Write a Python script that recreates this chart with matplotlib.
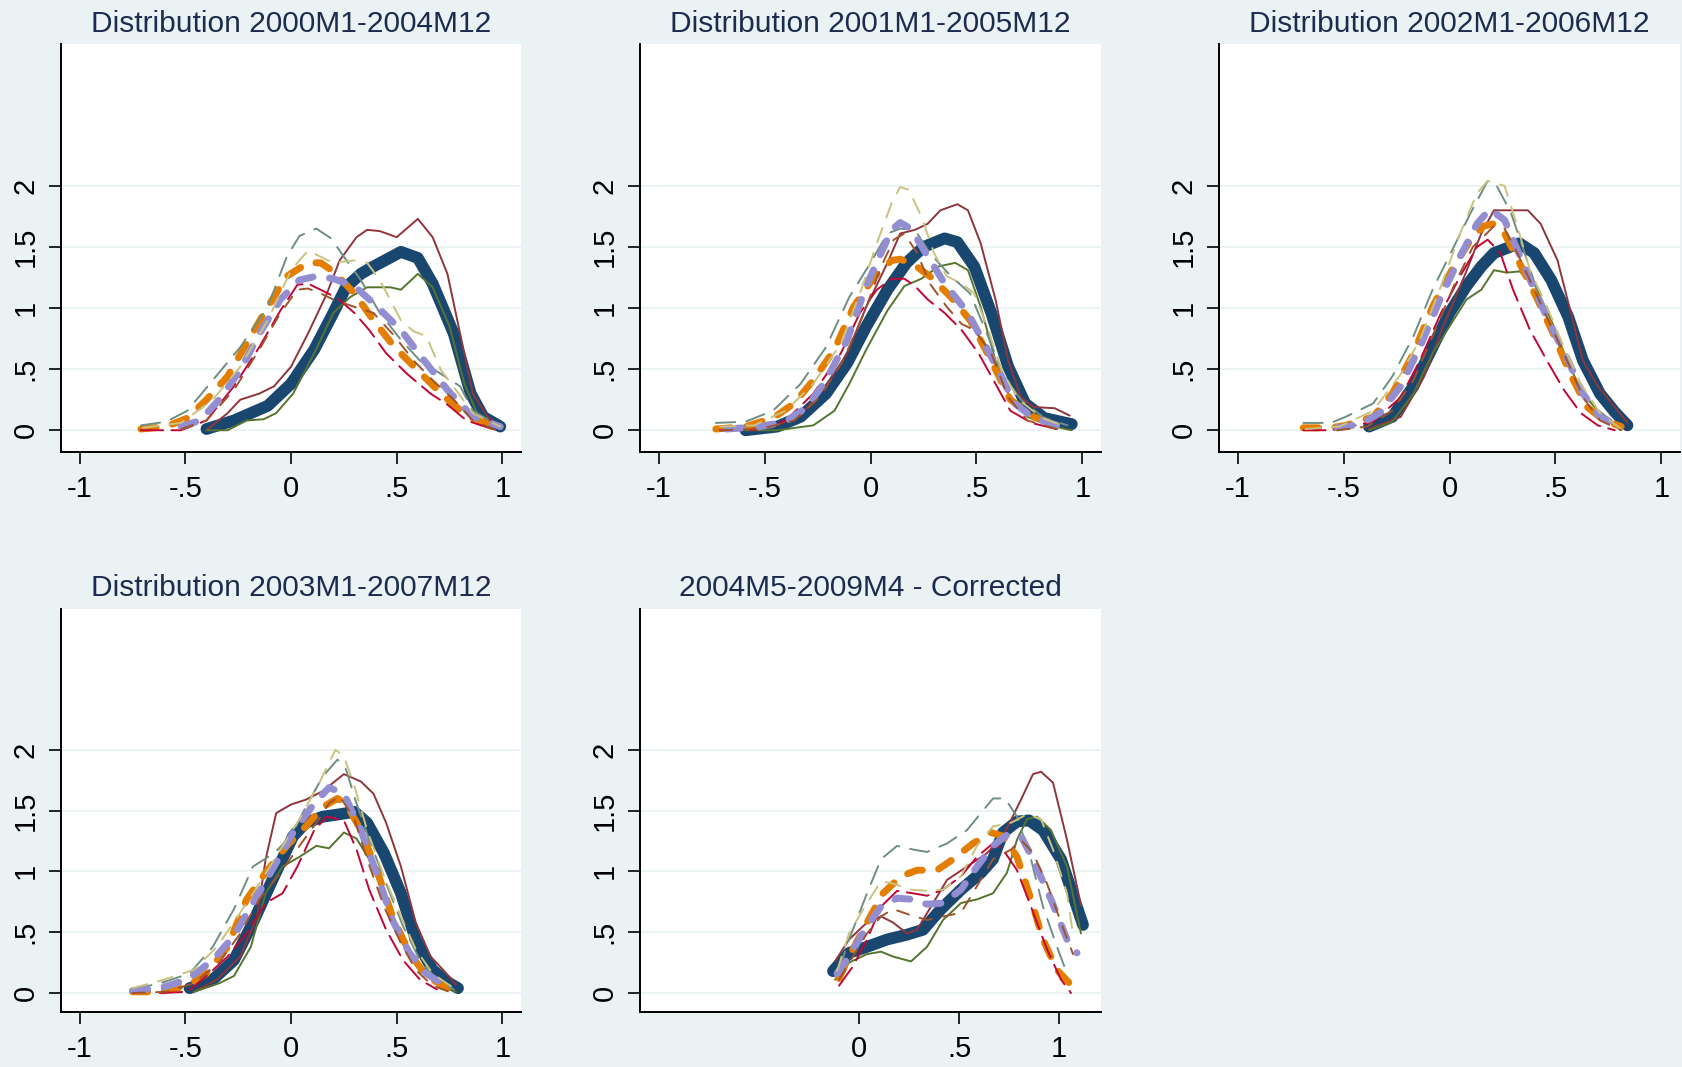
import matplotlib
matplotlib.use("Agg")
import matplotlib.pyplot as plt

plt.rcParams['font.family'] = ['Liberation Sans', 'DejaVu Sans']
plt.rcParams['lines.scale_dashes'] = False

# panel titles and x ticks
titles = ['Distribution 2000M1-2004M12', 'Distribution 2001M1-2005M12',
          'Distribution 2002M1-2006M12', 'Distribution 2003M1-2007M12',
          '2004M5-2009M4 - Corrected']
xticks_std = [-1, -0.5, 0, 0.5, 1]
xlabels_std = ['-1', '-.5', '0', '.5', '1']
xticks_p5 = [0, 0.5, 1]
xlabels_p5 = ['0', '.5', '1']
yticks = [0, 0.5, 1, 1.5, 2]
ylabels = ['0', '.5', '1', '1.5', '2']

# ---- panel 1: 2000M1-2004M12
p1_navy_x = [-0.40, -0.27, -0.11, 0.0, 0.11, 0.20, 0.26, 0.33, 0.39, 0.52, 0.60, 0.67, 0.77, 0.85, 0.91, 0.99]
p1_navy_y = [0.01, 0.08, 0.20, 0.38, 0.66, 0.96, 1.17, 1.28, 1.34, 1.46, 1.41, 1.20, 0.79, 0.30, 0.11, 0.03]
p1_maroon_x = [-0.40, -0.30, -0.24, -0.15, -0.08, 0.0, 0.08, 0.17, 0.23, 0.31, 0.36, 0.42, 0.50, 0.60, 0.67, 0.74, 0.80, 0.86, 0.93, 0.99]
p1_maroon_y = [0.0, 0.14, 0.25, 0.30, 0.36, 0.52, 0.79, 1.12, 1.39, 1.58, 1.64, 1.63, 1.58, 1.73, 1.58, 1.28, 0.79, 0.30, 0.11, 0.03]
p1_forest_x = [-0.40, -0.30, -0.21, -0.13, -0.07, 0.01, 0.11, 0.20, 0.28, 0.36, 0.47, 0.52, 0.60, 0.67, 0.75, 0.82, 0.88, 0.99]
p1_forest_y = [0.0, 0.0, 0.08, 0.09, 0.14, 0.30, 0.63, 0.96, 1.09, 1.17, 1.17, 1.15, 1.28, 1.17, 0.85, 0.38, 0.14, 0.01]
p1_orange_x = [-0.71, -0.59, -0.49, -0.40, -0.30, -0.21, -0.11, -0.02, 0.08, 0.14, 0.20, 0.30, 0.39, 0.49, 0.60, 0.71, 0.83, 0.97]
p1_orange_y = [0.01, 0.03, 0.10, 0.25, 0.44, 0.71, 1.01, 1.26, 1.37, 1.37, 1.30, 1.12, 0.90, 0.68, 0.49, 0.30, 0.12, 0.03]
p1_teal_x = [-0.71, -0.59, -0.49, -0.37, -0.24, -0.11, -0.02, 0.04, 0.12, 0.19, 0.25, 0.33, 0.42, 0.52, 0.61, 0.71, 0.80, 0.86, 0.99]
p1_teal_y = [0.04, 0.07, 0.16, 0.41, 0.68, 1.01, 1.42, 1.59, 1.65, 1.57, 1.42, 1.23, 0.96, 0.74, 0.57, 0.46, 0.36, 0.16, 0.03]
p1_cranberry_x = [-0.71, -0.52, -0.40, -0.27, -0.15, -0.05, 0.03, 0.08, 0.14, 0.22, 0.30, 0.37, 0.45, 0.55, 0.66, 0.74, 0.83, 0.97]
p1_cranberry_y = [0.0, 0.0, 0.08, 0.36, 0.68, 0.98, 1.19, 1.20, 1.15, 1.08, 0.96, 0.82, 0.63, 0.46, 0.30, 0.21, 0.08, 0.0]
p1_lavender_x = [-0.52, -0.43, -0.34, -0.24, -0.15, -0.05, 0.04, 0.12, 0.20, 0.30, 0.39, 0.52, 0.63, 0.74, 0.86, 0.99]
p1_lavender_y = [0.03, 0.08, 0.25, 0.49, 0.79, 1.07, 1.23, 1.26, 1.24, 1.18, 1.04, 0.82, 0.57, 0.33, 0.11, 0.03]
p1_khaki_x = [-0.70, -0.52, -0.37, -0.24, -0.11, 0.0, 0.08, 0.14, 0.20, 0.30, 0.36, 0.42, 0.52, 0.58, 0.64, 0.71, 0.78, 0.86, 0.99]
p1_khaki_y = [0.02, 0.06, 0.25, 0.52, 0.90, 1.31, 1.47, 1.42, 1.37, 1.39, 1.37, 1.23, 0.90, 0.81, 0.77, 0.49, 0.33, 0.14, 0.03]
p1_sienna_x = [-0.52, -0.40, -0.27, -0.15, -0.05, 0.03, 0.08, 0.14, 0.20, 0.30, 0.39, 0.49, 0.58, 0.67, 0.77, 0.86, 0.97]
p1_sienna_y = [0.01, 0.08, 0.33, 0.66, 0.96, 1.15, 1.16, 1.12, 1.07, 1.01, 0.96, 0.77, 0.57, 0.41, 0.25, 0.08, 0.0]

# ---- panel 2: 2001M1-2005M12
p2_navy_x = [-0.59, -0.44, -0.33, -0.21, -0.11, -0.02, 0.08, 0.17, 0.25, 0.35, 0.41, 0.49, 0.57, 0.65, 0.73, 0.82, 0.95]
p2_navy_y = [0.0, 0.03, 0.11, 0.30, 0.55, 0.85, 1.15, 1.37, 1.50, 1.57, 1.54, 1.34, 0.96, 0.52, 0.22, 0.10, 0.05]
p2_maroon_x = [-0.65, -0.46, -0.33, -0.21, -0.11, -0.02, 0.08, 0.14, 0.21, 0.27, 0.33, 0.41, 0.46, 0.52, 0.59, 0.65, 0.71, 0.77, 0.87, 0.94]
p2_maroon_y = [0.0, 0.03, 0.12, 0.36, 0.63, 1.01, 1.37, 1.61, 1.64, 1.69, 1.80, 1.85, 1.80, 1.53, 1.07, 0.57, 0.27, 0.19, 0.18, 0.12]
p2_forest_x = [-0.59, -0.44, -0.27, -0.17, -0.10, -0.02, 0.08, 0.16, 0.24, 0.32, 0.40, 0.46, 0.52, 0.59, 0.65, 0.74, 0.84, 0.95]
p2_forest_y = [0.0, 0.0, 0.04, 0.16, 0.38, 0.66, 0.98, 1.18, 1.24, 1.34, 1.37, 1.31, 1.01, 0.57, 0.30, 0.11, 0.04, 0.0]
p2_orange_x = [-0.73, -0.59, -0.46, -0.36, -0.27, -0.17, -0.08, 0.02, 0.10, 0.14, 0.21, 0.28, 0.38, 0.47, 0.57, 0.66, 0.77, 0.90]
p2_orange_y = [0.01, 0.03, 0.10, 0.22, 0.41, 0.66, 1.01, 1.26, 1.39, 1.40, 1.35, 1.26, 1.09, 0.90, 0.57, 0.25, 0.11, 0.03]
p2_teal_x = [-0.73, -0.59, -0.46, -0.33, -0.21, -0.10, 0.0, 0.08, 0.14, 0.21, 0.28, 0.38, 0.47, 0.55, 0.63, 0.71, 0.82, 0.93]
p2_teal_y = [0.06, 0.07, 0.16, 0.38, 0.68, 1.09, 1.37, 1.61, 1.65, 1.64, 1.45, 1.26, 1.12, 0.79, 0.44, 0.25, 0.10, 0.04]
p2_cranberry_x = [-0.71, -0.55, -0.40, -0.27, -0.14, -0.05, 0.03, 0.10, 0.16, 0.21, 0.27, 0.35, 0.43, 0.51, 0.59, 0.66, 0.76, 0.90]
p2_cranberry_y = [0.0, 0.0, 0.08, 0.30, 0.63, 0.96, 1.15, 1.24, 1.24, 1.18, 1.07, 0.96, 0.82, 0.63, 0.38, 0.16, 0.06, 0.0]
p2_lavender_x = [-0.68, -0.52, -0.40, -0.30, -0.21, -0.11, -0.02, 0.05, 0.10, 0.14, 0.19, 0.25, 0.35, 0.46, 0.57, 0.68, 0.77, 0.90]
p2_lavender_y = [0.01, 0.03, 0.07, 0.19, 0.41, 0.74, 1.18, 1.45, 1.64, 1.70, 1.65, 1.48, 1.20, 0.96, 0.60, 0.22, 0.10, 0.03]
p2_khaki_x = [-0.71, -0.55, -0.40, -0.27, -0.14, -0.05, 0.03, 0.10, 0.14, 0.18, 0.24, 0.30, 0.36, 0.43, 0.49, 0.55, 0.62, 0.70, 0.81, 0.92]
p2_khaki_y = [0.03, 0.04, 0.16, 0.38, 0.71, 1.12, 1.53, 1.86, 1.99, 1.97, 1.75, 1.45, 1.26, 1.20, 1.12, 0.85, 0.49, 0.25, 0.10, 0.03]
p2_sienna_x = [-0.71, -0.52, -0.36, -0.24, -0.13, -0.03, 0.05, 0.11, 0.16, 0.22, 0.28, 0.36, 0.43, 0.49, 0.57, 0.65, 0.74, 0.90]
p2_sienna_y = [0.0, 0.01, 0.08, 0.27, 0.57, 0.96, 1.34, 1.56, 1.61, 1.45, 1.20, 1.01, 0.87, 0.82, 0.63, 0.27, 0.08, 0.0]

# ---- panel 3: 2002M1-2006M12
p3_navy_x = [-0.38, -0.27, -0.17, -0.08, 0.0, 0.08, 0.15, 0.21, 0.27, 0.33, 0.40, 0.48, 0.56, 0.63, 0.71, 0.78, 0.84]
p3_navy_y = [0.03, 0.11, 0.36, 0.68, 0.96, 1.18, 1.34, 1.45, 1.49, 1.53, 1.45, 1.23, 0.93, 0.57, 0.30, 0.15, 0.04]
p3_maroon_x = [-0.38, -0.23, -0.12, -0.03, 0.07, 0.15, 0.21, 0.30, 0.37, 0.43, 0.51, 0.57, 0.63, 0.70, 0.78, 0.84]
p3_maroon_y = [0.01, 0.11, 0.44, 0.85, 1.26, 1.61, 1.80, 1.80, 1.80, 1.69, 1.39, 0.98, 0.57, 0.36, 0.19, 0.06]
p3_forest_x = [-0.38, -0.27, -0.17, -0.08, 0.0, 0.08, 0.15, 0.21, 0.27, 0.33, 0.40, 0.48, 0.56, 0.63, 0.71, 0.81]
p3_forest_y = [0.0, 0.07, 0.30, 0.63, 0.85, 1.07, 1.15, 1.31, 1.29, 1.30, 1.20, 0.90, 0.55, 0.30, 0.14, 0.01]
p3_orange_x = [-0.69, -0.56, -0.49, -0.36, -0.27, -0.17, -0.08, 0.02, 0.10, 0.16, 0.21, 0.26, 0.33, 0.41, 0.49, 0.57, 0.65, 0.73, 0.81]
p3_orange_y = [0.02, 0.02, 0.04, 0.11, 0.30, 0.63, 1.01, 1.34, 1.56, 1.67, 1.69, 1.61, 1.37, 1.09, 0.79, 0.46, 0.19, 0.08, 0.03]
p3_teal_x = [-0.69, -0.56, -0.49, -0.36, -0.27, -0.17, -0.08, 0.02, 0.10, 0.18, 0.22, 0.29, 0.37, 0.44, 0.52, 0.60, 0.68, 0.78]
p3_teal_y = [0.06, 0.06, 0.11, 0.22, 0.44, 0.77, 1.15, 1.50, 1.78, 2.04, 2.01, 1.78, 1.37, 1.01, 0.68, 0.41, 0.19, 0.06]
p3_cranberry_x = [-0.69, -0.56, -0.36, -0.23, -0.14, -0.04, 0.05, 0.13, 0.18, 0.24, 0.30, 0.38, 0.46, 0.54, 0.62, 0.70, 0.78]
p3_cranberry_y = [0.0, 0.0, 0.07, 0.27, 0.57, 0.96, 1.26, 1.50, 1.56, 1.45, 1.15, 0.82, 0.57, 0.33, 0.14, 0.04, 0.0]
p3_lavender_x = [-0.53, -0.42, -0.33, -0.23, -0.14, -0.04, 0.05, 0.13, 0.19, 0.26, 0.32, 0.40, 0.48, 0.56, 0.63, 0.71, 0.81]
p3_lavender_y = [0.02, 0.05, 0.14, 0.36, 0.68, 1.09, 1.42, 1.69, 1.81, 1.72, 1.48, 1.15, 0.85, 0.57, 0.30, 0.11, 0.02]
p3_khaki_x = [-0.68, -0.52, -0.36, -0.23, -0.14, -0.04, 0.05, 0.13, 0.18, 0.26, 0.32, 0.38, 0.46, 0.54, 0.62, 0.71, 0.81]
p3_khaki_y = [0.01, 0.03, 0.16, 0.46, 0.74, 1.18, 1.61, 1.94, 2.04, 2.00, 1.67, 1.31, 1.01, 0.68, 0.38, 0.14, 0.01]
p3_sienna_x = [-0.53, -0.39, -0.27, -0.17, -0.08, 0.02, 0.11, 0.21, 0.26, 0.32, 0.40, 0.48, 0.56, 0.63, 0.71, 0.81]
p3_sienna_y = [0.0, 0.03, 0.16, 0.41, 0.77, 1.18, 1.50, 1.67, 1.65, 1.45, 1.15, 0.85, 0.55, 0.27, 0.08, 0.0]

# ---- panel 4: 2003M1-2007M12
p4_navy_x = [-0.48, -0.37, -0.27, -0.18, -0.08, 0.01, 0.07, 0.15, 0.23, 0.30, 0.36, 0.44, 0.52, 0.59, 0.67, 0.75, 0.79]
p4_navy_y = [0.04, 0.11, 0.27, 0.58, 0.96, 1.29, 1.40, 1.45, 1.47, 1.49, 1.40, 1.15, 0.82, 0.44, 0.19, 0.08, 0.04]
p4_maroon_x = [-0.46, -0.35, -0.24, -0.16, -0.12, -0.07, 0.0, 0.07, 0.15, 0.25, 0.33, 0.39, 0.45, 0.52, 0.59, 0.66, 0.72, 0.78]
p4_maroon_y = [0.01, 0.11, 0.30, 0.63, 1.10, 1.48, 1.55, 1.59, 1.66, 1.80, 1.74, 1.64, 1.40, 1.04, 0.58, 0.30, 0.19, 0.07]
p4_forest_x = [-0.46, -0.34, -0.27, -0.19, -0.12, -0.04, 0.04, 0.12, 0.18, 0.25, 0.31, 0.37, 0.45, 0.53, 0.61, 0.70, 0.78]
p4_forest_y = [0.01, 0.08, 0.14, 0.38, 0.82, 1.04, 1.12, 1.21, 1.19, 1.32, 1.27, 1.10, 0.77, 0.44, 0.22, 0.06, 0.01]
p4_orange_x = [-0.75, -0.62, -0.49, -0.40, -0.30, -0.21, -0.12, -0.02, 0.07, 0.15, 0.22, 0.26, 0.33, 0.41, 0.48, 0.56, 0.64, 0.74]
p4_orange_y = [0.01, 0.01, 0.06, 0.16, 0.38, 0.77, 0.99, 1.21, 1.37, 1.53, 1.60, 1.56, 1.34, 0.99, 0.63, 0.33, 0.14, 0.04]
p4_teal_x = [-0.75, -0.62, -0.48, -0.37, -0.27, -0.18, -0.08, 0.0, 0.07, 0.15, 0.22, 0.26, 0.31, 0.37, 0.45, 0.53, 0.61, 0.69, 0.77]
p4_teal_y = [0.03, 0.08, 0.16, 0.38, 0.69, 1.04, 1.15, 1.29, 1.53, 1.78, 1.92, 1.84, 1.56, 1.26, 0.90, 0.55, 0.27, 0.11, 0.03]
p4_cranberry_x = [-0.62, -0.49, -0.40, -0.30, -0.21, -0.12, -0.04, 0.03, 0.11, 0.17, 0.25, 0.31, 0.37, 0.45, 0.53, 0.61, 0.69]
p4_cranberry_y = [0.0, 0.01, 0.14, 0.30, 0.49, 0.74, 0.82, 1.04, 1.34, 1.45, 1.42, 1.18, 0.85, 0.52, 0.27, 0.11, 0.03]
p4_lavender_x = [-0.75, -0.62, -0.49, -0.37, -0.27, -0.18, -0.08, 0.01, 0.11, 0.18, 0.25, 0.33, 0.41, 0.48, 0.56, 0.64, 0.73]
p4_lavender_y = [0.02, 0.04, 0.11, 0.27, 0.47, 0.74, 1.04, 1.32, 1.56, 1.69, 1.64, 1.34, 0.96, 0.60, 0.33, 0.16, 0.06]
p4_khaki_x = [-0.75, -0.62, -0.46, -0.35, -0.24, -0.15, -0.05, 0.04, 0.14, 0.21, 0.25, 0.30, 0.36, 0.44, 0.52, 0.59, 0.67, 0.77]
p4_khaki_y = [0.04, 0.10, 0.19, 0.38, 0.66, 0.90, 1.18, 1.43, 1.75, 2.00, 1.95, 1.70, 1.34, 0.96, 0.63, 0.36, 0.16, 0.04]
p4_sienna_x = [-0.75, -0.59, -0.46, -0.34, -0.24, -0.15, -0.05, 0.04, 0.12, 0.18, 0.23, 0.30, 0.36, 0.44, 0.52, 0.59, 0.67, 0.75]
p4_sienna_y = [0.0, 0.01, 0.08, 0.25, 0.49, 0.77, 0.99, 1.21, 1.40, 1.56, 1.62, 1.43, 1.10, 0.71, 0.41, 0.19, 0.06, 0.01]

# ---- panel 5: 2004M5-2009M4 (corrected)
p5_navy_x = [-0.13, -0.05, 0.04, 0.14, 0.24, 0.32, 0.41, 0.51, 0.61, 0.67, 0.72, 0.79, 0.85, 0.92, 1.01, 1.12]
p5_navy_y = [0.18, 0.33, 0.38, 0.44, 0.48, 0.52, 0.69, 0.85, 0.99, 1.10, 1.32, 1.41, 1.42, 1.34, 1.10, 0.56]
p5_maroon_x = [-0.12, -0.05, 0.04, 0.11, 0.17, 0.24, 0.29, 0.36, 0.44, 0.54, 0.64, 0.72, 0.81, 0.87, 0.91, 0.97, 1.04, 1.11]
p5_maroon_y = [0.26, 0.44, 0.58, 0.63, 0.58, 0.49, 0.52, 0.71, 0.93, 1.04, 1.15, 1.29, 1.59, 1.80, 1.82, 1.73, 1.26, 0.72]
p5_forest_x = [-0.12, -0.05, 0.04, 0.11, 0.17, 0.26, 0.34, 0.42, 0.51, 0.59, 0.67, 0.74, 0.79, 0.84, 0.89, 0.96, 1.04, 1.11]
p5_forest_y = [0.11, 0.25, 0.32, 0.34, 0.30, 0.26, 0.38, 0.60, 0.74, 0.77, 0.82, 0.99, 1.26, 1.43, 1.45, 1.34, 1.04, 0.49]
p5_orange_x = [-0.10, -0.05, 0.04, 0.12, 0.21, 0.29, 0.39, 0.47, 0.57, 0.66, 0.72, 0.79, 0.86, 0.92, 0.99, 1.07]
p5_orange_y = [0.12, 0.30, 0.58, 0.82, 0.96, 1.01, 1.01, 1.10, 1.23, 1.32, 1.29, 1.12, 0.77, 0.44, 0.19, 0.05]
p5_teal_x = [-0.10, -0.05, 0.04, 0.11, 0.19, 0.27, 0.34, 0.44, 0.54, 0.61, 0.67, 0.73, 0.79, 0.86, 0.92, 0.99, 1.04]
p5_teal_y = [0.19, 0.44, 0.82, 1.10, 1.21, 1.18, 1.16, 1.23, 1.34, 1.48, 1.60, 1.60, 1.45, 1.10, 0.71, 0.38, 0.16]
p5_cranberry_x = [-0.10, -0.03, 0.04, 0.11, 0.19, 0.27, 0.34, 0.42, 0.51, 0.59, 0.67, 0.72, 0.79, 0.86, 0.94, 1.01, 1.06]
p5_cranberry_y = [0.06, 0.22, 0.44, 0.71, 0.84, 0.82, 0.80, 0.85, 0.96, 1.12, 1.23, 1.18, 1.01, 0.71, 0.36, 0.11, 0.0]
p5_lavender_x = [-0.11, -0.05, 0.04, 0.11, 0.19, 0.27, 0.34, 0.42, 0.51, 0.59, 0.67, 0.74, 0.81, 0.87, 0.96, 1.04, 1.09]
p5_lavender_y = [0.16, 0.30, 0.55, 0.71, 0.78, 0.77, 0.73, 0.74, 0.85, 1.04, 1.21, 1.30, 1.29, 1.10, 0.77, 0.44, 0.33]
p5_khaki_x = [-0.11, -0.05, 0.04, 0.11, 0.17, 0.26, 0.34, 0.42, 0.51, 0.59, 0.67, 0.76, 0.84, 0.91, 0.97, 1.04, 1.07]
p5_khaki_y = [0.18, 0.49, 0.74, 0.92, 0.90, 0.85, 0.84, 0.85, 0.96, 1.21, 1.37, 1.40, 1.47, 1.43, 1.18, 0.82, 0.48]
p5_sienna_x = [-0.10, -0.03, 0.04, 0.11, 0.17, 0.26, 0.34, 0.42, 0.51, 0.59, 0.67, 0.76, 0.81, 0.87, 0.94, 1.01, 1.07]
p5_sienna_y = [0.11, 0.30, 0.49, 0.63, 0.69, 0.64, 0.60, 0.63, 0.66, 0.88, 1.10, 1.18, 1.26, 1.15, 0.90, 0.58, 0.32]

panels = [
    [(p1_navy_x, p1_navy_y), (p1_maroon_x, p1_maroon_y), (p1_forest_x, p1_forest_y),
     (p1_orange_x, p1_orange_y), (p1_teal_x, p1_teal_y), (p1_cranberry_x, p1_cranberry_y),
     (p1_lavender_x, p1_lavender_y), (p1_khaki_x, p1_khaki_y), (p1_sienna_x, p1_sienna_y)],
    [(p2_navy_x, p2_navy_y), (p2_maroon_x, p2_maroon_y), (p2_forest_x, p2_forest_y),
     (p2_orange_x, p2_orange_y), (p2_teal_x, p2_teal_y), (p2_cranberry_x, p2_cranberry_y),
     (p2_lavender_x, p2_lavender_y), (p2_khaki_x, p2_khaki_y), (p2_sienna_x, p2_sienna_y)],
    [(p3_navy_x, p3_navy_y), (p3_maroon_x, p3_maroon_y), (p3_forest_x, p3_forest_y),
     (p3_orange_x, p3_orange_y), (p3_teal_x, p3_teal_y), (p3_cranberry_x, p3_cranberry_y),
     (p3_lavender_x, p3_lavender_y), (p3_khaki_x, p3_khaki_y), (p3_sienna_x, p3_sienna_y)],
    [(p4_navy_x, p4_navy_y), (p4_maroon_x, p4_maroon_y), (p4_forest_x, p4_forest_y),
     (p4_orange_x, p4_orange_y), (p4_teal_x, p4_teal_y), (p4_cranberry_x, p4_cranberry_y),
     (p4_lavender_x, p4_lavender_y), (p4_khaki_x, p4_khaki_y), (p4_sienna_x, p4_sienna_y)],
    [(p5_navy_x, p5_navy_y), (p5_maroon_x, p5_maroon_y), (p5_forest_x, p5_forest_y),
     (p5_orange_x, p5_orange_y), (p5_teal_x, p5_teal_y), (p5_cranberry_x, p5_cranberry_y),
     (p5_lavender_x, p5_lavender_y), (p5_khaki_x, p5_khaki_y), (p5_sienna_x, p5_sienna_y)],
]

# line styles in drawing order (stata s2color-like)
styles = [
    dict(color='#1A476F', lw=8.5, ls='-'),
    dict(color='#90353B', lw=1.4, ls='-'),
    dict(color='#55752F', lw=1.4, ls='-'),
    dict(color='#E37E00', lw=5.0, ls=(0, (11, 12))),
    dict(color='#6E8E84', lw=1.4, ls=(0, (14, 8))),
    dict(color='#C10534', lw=1.4, ls=(0, (16, 6))),
    dict(color='#938DD2', lw=5.0, ls=(0, (11, 12))),
    dict(color='#CAC27E', lw=1.4, ls=(0, (11, 8))),
    dict(color='#A0522D', lw=1.4, ls=(0, (9, 8))),
]

bg = '#EAF2F3'
W, H = 1682, 1067
fig = plt.figure(figsize=(W / 100, H / 100), dpi=100, facecolor=bg)

# axes boxes in pixels: (left, top, right, bottom)
boxes = [(61, 44, 521, 452), (640, 44, 1101, 452), (1219, 44, 1680, 452),
         (61, 609, 521, 1012), (640, 609, 1101, 1012)]
ylims = [(-0.178, 3.161)] * 3 + [(-0.156, 3.158)] * 2
xlims = [(-1.088, 1.088)] * 4 + [(-1.095, 1.21)]

for i, (l, t, r, b) in enumerate(boxes):
    ax = fig.add_axes([l / W, 1 - b / H, (r - l) / W, (b - t) / H])
    ax.set_facecolor('white')
    for yv in yticks:
        ax.axhline(yv, color=bg, lw=1.3, zorder=0)
    for (xs, ys), st in zip(panels[i], styles):
        ax.plot(xs, ys, color=st['color'], lw=st['lw'], ls=st['ls'],
                solid_capstyle='round', dash_capstyle='round',
                solid_joinstyle='round', dash_joinstyle='round')
    ax.set_xlim(*xlims[i])
    ax.set_ylim(*ylims[i])
    if i == 4:
        ax.set_xticks(xticks_p5, xlabels_p5)
    else:
        ax.set_xticks(xticks_std, xlabels_std)
    ax.set_yticks(yticks, ylabels)
    for lbl in ax.get_yticklabels():
        lbl.set_rotation(90)
        lbl.set_va('center')
    ax.tick_params(axis='both', direction='out', length=8.4, width=1.2,
                   labelsize=21, colors='black')
    ax.tick_params(axis='x', pad=8)
    ax.tick_params(axis='y', pad=7)
    for side in ['top', 'right']:
        ax.spines[side].set_visible(False)
    for side in ['left', 'bottom']:
        ax.spines[side].set_linewidth(1.4)
        ax.spines[side].set_color('black')
    ax.set_title(titles[i], fontsize=21.5, color='#1C2B4F', pad=9)

fig.savefig('out.png', dpi=100, facecolor=bg)
